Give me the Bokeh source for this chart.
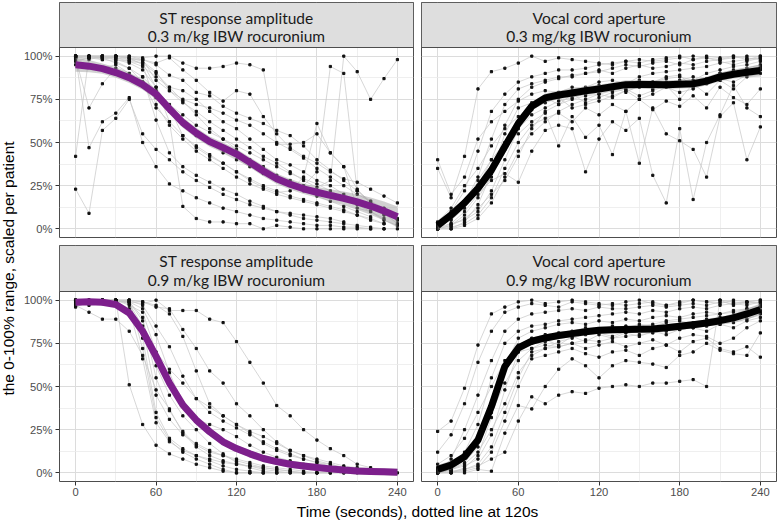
import math
from bokeh.plotting import figure
from bokeh.layouts import row, column
from bokeh.models import Range1d, FixedTicker, Grid, LinearAxis
from bokeh.core.properties import value
from bokeh.embed import file_html
from bokeh.resources import INLINE

# ---------------- data ----------------
times = [0, 10, 20, 30, 40, 50, 60, 70, 80, 90, 100, 110, 120,
         130, 140, 150, 160, 170, 180, 190, 200, 210, 220, 230, 240]

x_ticks = [0, 60, 120, 180, 240]
x_minor = [30, 90, 150, 210]
y_ticks = [0, 25, 50, 75, 100]
y_minor = [12.5, 37.5, 62.5, 87.5]
y_tick_labels = ["0%", "25%", "50%", "75%", "100%"]

N = None
# ST response amplitude, 0.3
st03_patients = [
    [100, 100, 100, 100, 100, 99, 100, 100, 96, 93, 93, 94, 96, 95, 92, 49, 49, 50, 55, 44, 36, 23, 15, 10, 5],
    [99, 100, 100, 99, 98, 98, 95, 89, 86, 79, 77, 71, 67, 64, 61, 57, 54, 48, 40, 34, 28, 22, 16, 12, 6],
    [98, 99, 99, 100, 99, 97, 91, 80, 75, 72, 70, 67, 63, 60, 55, 50, 46, 41, 35, 30, 25, 20, 16, N, N],
    [100, 98, 100, 98, 97, 94, 88, 82, 80, 75, 68, 62, 58, 52, 46, 40, 37, 33, 28, 25, 20, 16, 12, 8, N],
    [97, 99, 98, 97, 93, 88, 80, 72, 66, 60, 56, 52, 48, 44, 40, 36, 32, 29, 26, 22, 18, 14, 10, 6, N],
    [95, 94, 93, 95, 90, 85, 76, 68, 61, 54, 50, 44, 40, 36, 32, 28, 25, 22, 19, 16, 13, 10, 7, N, N],
    [100, 100, 99, 96, 93, 85, 70, 62, 54, 48, 43, 38, 33, 29, 25, 22, 19, 17, 15, 13, 11, 8, 6, 3, N],
    [42, 100, 98, 100, 99, 95, 72, 60, 52, 45, 40, 35, 30, 26, 23, 20, 18, 16, 14, 12, 10, 8, 5, 3, N],
    [23, 9, 57, 64, 75, 55, 46, 40, 33, 28, 24, 20, 17, 14, 12, 10, 9, 8, 7, 6, 4, N, N, N, N],
    [100, 47, 62, 67, 76, 50, 36, 26, 22, 18, 15, 12, 10, 8, 6, 5, 4, 3, 2, 2, 1, 1, 0, N, N],
    [99, 70, 84, 93, 87, 88, 63, 44, 36, 31, 27, 23, 20, 16, 13, 10, 8, 6, 5, 4, 3, 2, 1, 0, N],
    [100, 100, 100, 100, 100, 98, 96, 99, 92, 86, 79, 74, 80, 78, 65, 55, 47, 42, 38, 33, 29, 27, 23, 19, 15],
    [99, 100, 99, 98, 96, 92, 82, 62, 13, 6, 4, 4, 3, 3, 0, 2, 1, 0, 0, 0, 0, 0, 0, 0, 0],
    [100, 100, 100, 99, 97, 96, 82, 70, 54, 47, 42, 38, 33, 28, 24, 21, 22, 30, 61, 44, 36, 12, 10, 5, 2],
    [100, 100, 99, 100, 98, 96, 90, 82, 74, 66, 58, 52, 46, 40, 36, 31, 28, 25, 33, 94, 90, 22, 15, 9, 3],
    [100, 99, 100, 100, 99, 98, 86, 80, 73, 68, 62, 57, 52, 47, 42, 38, 33, 28, 24, 28, 100, 91, 75, 87, 98],
]
st03_smooth = [95, 94.2, 92.8, 90.5, 87.5, 83.5, 78, 69.5, 61.5, 55.5, 50.5, 47, 43.3, 38.5, 33.5,
               29, 25.8, 23.2, 21.2, 19.4, 17.6, 15.6, 13.2, 10.3, 7]
st03_se = [4, 3.5, 3, 3, 3, 3, 3, 3, 3, 3, 3, 3, 3, 3, 3, 3, 3, 3, 3, 3.5, 4, 4.5, 5, 5.5, 6]

# Vocal cord aperture, 0.3
vc03_patients = [
    [0, 10, 22, 45, 68, 78, 85, 88, 90, 92, 92, 93, 95, 96, 97, 98, 97, 98, 99, 100, 99, 98, 99, 100, 100],
    [3, 8, 15, 30, 52, 72, 81, 84, 86, 88, 88, 90, 91, 93, 95, 94, 96, 97, 95, 98, 100, 99, 100, 99, 98],
    [2, 5, 12, 28, 40, 60, 75, 82, 85, 87, 89, 90, 92, 90, 93, 95, 93, 94, 96, 95, 97, 98, 100, 98, 100],
    [35, 18, 42, 81, 91, 93, 96, 100, 97, 99, 98, 97, 96, 95, 97, 96, 98, 99, 100, 98, 99, 97, 95, 97, 99],
    [0, 2, 8, 18, 30, 46, 62, 70, 75, 78, 80, 82, 85, 86, 84, 88, 90, 91, 92, 93, 94, 96, 97, 98, 99],
    [1, 3, 5, 10, 22, 40, 58, 66, 70, 74, 76, 78, 80, 82, 79, 83, 85, 87, 88, 86, 90, 92, 94, 95, 97],
    [40, 20, 30, 52, 62, 68, 74, 78, 80, 79, 82, 81, 83, 80, 84, 86, 85, 88, 89, 82, 85, 90, 92, 93, 95],
    [0, 0, 4, 14, 32, 55, 70, 73, 76, 72, 78, 73, 76, 79, 81, 77, 80, 83, 75, 84, 78, 86, 81, 88, 90],
    [0, 1, 3, 8, 18, 35, 50, 60, 64, 67, 62, 70, 66, 72, 68, 75, 69, 74, 71, 77, 70, 82, 76, 72, 81],
    [2, 6, 15, 25, 40, 50, 55, 62, 67, 48, 65, 53, 60, 43, 68, 38, 70, 55, 51, 46, 30, 65, 73, 40, 59],
    [0, 3, 10, 20, 28, 32, 27, 45, 57, 60, 58, 33, 52, 62, 57, 64, 31, 15, 58, 17, 50, 66, 83, 70, 65],
    [4, 12, 25, 35, 48, 58, 65, 69, 73, 76, 70, 72, 74, 77, 80, 75, 78, 82, 79, 81, 84, 87, 85, 89, 92],
    [0, 0, 2, 6, 15, 30, 45, 55, 62, 68, 72, 75, 78, 80, 82, 84, 83, 85, 86, 88, 87, 90, 91, 92, 94],
    [0, 2, 6, 12, 20, 28, 42, 58, 68, 72, 75, 77, 78, 76, 80, 82, 81, 84, 85, 83, 87, 86, 89, 90, 93],
]
vc03_smooth = [2, 8, 15, 23.4, 34, 47.7, 61, 71, 75.8, 77.5, 78.7, 80, 81, 82.3, 83.5,
               83.6, 83.6, 83.5, 83.7, 84, 85.5, 88, 89.5, 90.7, 91.7]
vc03_se = [3, 2.5, 2.5, 2.5, 2.5, 2.5, 2.5, 2.5, 2.5, 2.5, 2.5, 2.5, 2.5, 2.5, 2.5,
           2.5, 2.5, 2.5, 2.5, 2.5, 2.5, 2.5, 2.5, 3, 3.5]

# ST response amplitude, 0.9
st09_patients = [
    [100, 100, 100, 100, 99, 98, 100, 94, 94, 94, 89, 87, 76, 64, 52, 39, 33, 25, 19, 14, 10, 5, 3, 1, N],
    [100, 99, 100, 100, 100, 99, 96, 95, 83, 72, 59, 52, 40, 33, 25, 18, 13, 10, 7, 5, 3, 2, 1, 0, N],
    [99, 97, 99, 100, 100, 97, 85, 73, 56, 43, 35, 30, 26, 22, 18, 14, 11, 8, 6, 4, 3, 2, 1, N, N],
    [98, 100, 100, 100, 51, 28, 16, 11, 8, 5, 3, 1, 0, 0, 0, 0, N, N, N, N, N, N, N, N, N],
    [97, 93, 89, 89, 82, 68, 48, 37, 23, 15, 10, 7, 5, 4, 3, 2, 1, 0, 0, 0, 0, N, N, N, N],
    [100, 98, 98, 100, 99, 88, 62, 45, 33, 25, 17, 11, 6, 3, 1, 0, 0, 0, 0, 0, N, N, N, N, N],
    [99, 100, 100, 99, 100, 72, 32, 19, 12, 8, 5, 2, 0, 0, 0, N, N, N, N, N, N, N, N, N, N],
    [100, 99, 99, 100, 98, 85, 45, 31, 22, 17, 13, 10, 8, 6, 4, 3, 2, 1, 0, 0, 0, 0, N, N, N],
    [96, 99, 99, 99, 99, 95, 80, 58, 40, 31, 28, 25, 21, 16, 12, 9, 7, 5, 4, 3, 2, 1, 0, N, N],
    [100, 100, 100, 100, 100, 99, 97, 92, 79, 59, 40, 33, 28, 24, 21, 17, 13, 10, 8, 6, 4, 3, 2, 1, 0],
    [99, 98, 100, 100, 99, 90, 55, 36, 24, 16, 12, 10, 7, 5, 3, 2, 1, 0, 0, N, N, N, N, N, N],
    [100, 100, 99, 100, 98, 78, 35, 20, 14, 10, 7, 4, 2, 1, 0, 0, N, N, N, N, N, N, N, N, N],
    [100, 100, 100, 100, 97, 93, 70, 60, 52, 43, 38, 33, 28, 23, 17, 13, 10, 8, 6, 5, 3, 2, 1, 0, N],
    [98, 99, 100, 99, 95, 66, 29, 18, 13, 10, 8, 6, 5, 4, 2, 1, 0, 0, N, N, N, N, N, N, N],
]
st09_smooth = [98.8, 99, 98.8, 97.5, 92.6, 82, 67.4, 52, 39.3, 30.6, 23.8, 18, 14.1, 11, 8.3,
               6.5, 5, 4, 3.1, 2.3, 1.6, 1.1, 0.8, 0.6, 0.4]
st09_se = [2, 1.5, 1.5, 1.5, 2, 2.5, 3, 3, 3, 2.5, 2.5, 2, 2, 2, 2, 2, 2, 2, 2, 2, 2, 2, 2, 2, 2]

# Vocal cord aperture, 0.9
vc09_patients = [
    [24, 30, 49, 74, 92, 96, 99, 100, 98, 99, 100, 99, 98, 97, 99, 100, 98, 97, 99, 100, 99, 98, 100, 99, 100],
    [12, 22, 40, 64, 82, 93, 96, 98, 97, 96, 99, 98, 97, 98, 97, 98, 99, 97, 98, 100, 99, 100, 99, 98, 99],
    [0, 8, 25, 45, 65, 82, 89, 92, 93, 94, 95, 94, 96, 95, 95, 96, 97, 96, 97, 98, 97, 99, 98, 99, 100],
    [2, 5, 12, 28, 55, 75, 82, 85, 86, 88, 89, 90, 91, 92, 93, 92, 94, 93, 95, 96, 95, 97, 98, 97, 99],
    [0, 2, 6, 15, 38, 62, 78, 82, 84, 86, 87, 86, 88, 87, 89, 88, 90, 91, 90, 92, 93, 92, 94, 95, 97],
    [1, 0, 3, 10, 32, 60, 74, 78, 80, 81, 82, 84, 83, 85, 84, 86, 85, 87, 88, 86, 89, 90, 91, 92, 94],
    [0, 2, 4, 8, 22, 48, 70, 75, 77, 74, 79, 76, 80, 78, 81, 79, 82, 80, 83, 84, 82, 86, 84, 88, 90],
    [3, 1, 2, 5, 15, 35, 55, 70, 72, 73, 75, 72, 74, 76, 73, 75, 77, 74, 78, 80, 79, 75, 78, 84, 88],
    [0, 0, 1, 3, 12, 30, 50, 66, 68, 70, 72, 69, 67, 70, 71, 68, 72, 74, 70, 76, 78, 72, 70, 73, 67],
    [0, 1, 0, 2, 1, 23, 39, 37, 50, 60, 66, 62, 55, 62, 65, 64, 63, 61, 68, 70, 75, 71, 69, 68, 81],
    [0, 0, 2, 4, 8, 12, 30, 44, 40, 45, 47, 46, 49, 50, 51, 50, 52, 52, 53, 54, 50, 100, 97, 99, 98],
    [5, 10, 20, 35, 50, 65, 70, 72, 74, 73, 75, 77, 76, 78, 79, 80, 81, 82, 83, 84, 85, 86, 87, 89, 92],
    [0, 2, 5, 12, 25, 40, 58, 68, 72, 76, 78, 80, 81, 79, 82, 83, 84, 85, 86, 87, 88, 89, 90, 91, 93],
    [2, 4, 10, 20, 35, 52, 65, 72, 76, 79, 81, 82, 83, 84, 85, 85, 86, 88, 89, 90, 91, 92, 93, 95, 96],
]
vc09_smooth = [2, 4.5, 9.3, 19, 38.4, 61.6, 72.3, 76.2, 78.1, 79.5, 80.6, 81.7, 82.6, 82.8, 83,
               83.2, 83.3, 84, 84.9, 85.8, 86.8, 88.1, 89.7, 92, 94.6]
vc09_se = [2.5, 2.5, 2.5, 2.5, 3, 3, 2.5, 2, 2, 2, 2, 2, 2, 2, 2, 2, 2, 2, 2, 2, 2, 2, 2.5, 3, 3.5]

strip_titles = [
    ["ST response amplitude", "0.3 m/kg IBW rocuronium"],
    ["Vocal cord aperture", "0.3 mg/kg IBW rocuronium"],
    ["ST response amplitude", "0.9 m/kg IBW rocuronium"],
    ["Vocal cord aperture", "0.9 mg/kg IBW rocuronium"],
]
y_title = "the 0-100% range, scaled per patient"
x_title = "Time (seconds), dotted line at 120s"

# ---------------- style ----------------
PURPLE = "#7d1f8c"
X0, X1 = -12, 252
Y0, Y1 = -5, 105
PANEL_PX = 190
TICK_FONT = "Arial"
STRIP_FONT = "Lato"


def make_panel(titles, patients, smooth, se, color, width, height,
               bl, br, bt, bb, show_x, show_y):
    frame_h = height - bt - bb
    strip_px = frame_h - PANEL_PX
    upp = (Y1 - Y0) / PANEL_PX
    ytop = Y1 + strip_px * upp
    p = figure(width=width, height=height, x_range=Range1d(X0, X1),
               y_range=Range1d(Y0, ytop), output_backend="svg",
               toolbar_location=None, x_axis_location=None, y_axis_location=None,
               min_border_left=bl, min_border_right=br,
               min_border_top=bt, min_border_bottom=bb)
    p.grid.visible = False
    p.background_fill_color = "white"
    p.border_fill_color = "white"
    p.outline_line_color = "#4d4d4d"
    p.outline_line_width = 1

    gx = Grid(dimension=0, ticker=FixedTicker(ticks=x_ticks, minor_ticks=x_minor),
              grid_line_color="#dcdcdc", grid_line_width=1,
              minor_grid_line_color="#ebebeb", minor_grid_line_width=0.8)
    gy = Grid(dimension=1, ticker=FixedTicker(ticks=y_ticks, minor_ticks=y_minor),
              grid_line_color="#dcdcdc", grid_line_width=1,
              minor_grid_line_color="#ebebeb", minor_grid_line_width=0.8)
    p.add_layout(gx)
    p.add_layout(gy)

    xs, ys, px, py = [], [], [], []
    for pat in patients:
        tx = [t for t, v in zip(times, pat) if v is not None]
        vy = [v for v in pat if v is not None]
        xs.append(tx)
        ys.append(vy)
        px.extend(tx)
        py.extend(vy)
    p.multi_line(xs, ys, line_color="#c6c6c6", line_width=0.7)
    p.scatter(px, py, size=2.2, color="#111111", marker="square")

    lo = [m - s for m, s in zip(smooth, se)]
    hi = [m + s for m, s in zip(smooth, se)]
    p.varea(x=times, y1=lo, y2=hi, fill_color="#999999", fill_alpha=0.45)
    p.line(times, smooth, line_color=color, line_width=7, line_join="round")

    # strip
    p.quad(left=X0, right=X1, bottom=Y1, top=ytop, fill_color="#dedede",
           line_color="#4d4d4d", line_width=1)
    l1 = ytop - (strip_px * 0.34) * upp
    l2 = ytop - (strip_px * 0.74) * upp
    p.text(x=[(X0 + X1) / 2] * 2, y=[l1, l2], text=titles,
           text_align="center", text_baseline="middle",
           text_font=value(STRIP_FONT), text_font_size="15.5px", text_color="#1a1a1a")

    if show_x:
        ax = LinearAxis(ticker=FixedTicker(ticks=x_ticks))
        ax.axis_line_color = None
        ax.major_tick_line_color = "#333333"
        ax.major_tick_in = 0
        ax.major_tick_out = 4
        ax.minor_tick_line_color = None
        ax.major_label_standoff = 2
        ax.major_label_text_font = TICK_FONT
        ax.major_label_text_font_size = "11.2px"
        ax.major_label_text_color = "#4d4d4d"
        p.add_layout(ax, "below")
    if show_y:
        ay = LinearAxis(ticker=FixedTicker(ticks=y_ticks))
        ay.major_label_overrides = {t: s for t, s in zip(y_ticks, y_tick_labels)}
        ay.axis_line_color = None
        ay.major_tick_line_color = "#333333"
        ay.major_tick_in = 0
        ay.major_tick_out = 4
        ay.minor_tick_line_color = None
        ay.major_label_standoff = 3
        ay.major_label_text_font = TICK_FONT
        ay.major_label_text_font_size = "11.2px"
        ay.major_label_text_color = "#4d4d4d"
        p.add_layout(ay, "left")
    return p


tl = make_panel(strip_titles[0], st03_patients, st03_smooth, st03_se, PURPLE,
                397, 241, 38, 4, 2, 4, False, True)
tr = make_panel(strip_titles[1], vc03_patients, vc03_smooth, vc03_se, "black",
                361, 241, 4, 2, 2, 4, False, False)
bl = make_panel(strip_titles[2], st09_patients, st09_smooth, st09_se, PURPLE,
                397, 260, 38, 4, 4, 20, True, True)
br = make_panel(strip_titles[3], vc09_patients, vc09_smooth, vc09_se, "black",
                361, 260, 4, 2, 4, 20, True, False)


def blank(width, height):
    f = figure(width=width, height=height, x_range=Range1d(0, width),
               y_range=Range1d(0, height), output_backend="svg",
               toolbar_location=None, x_axis_location=None, y_axis_location=None,
               min_border_left=0, min_border_right=0, min_border_top=0,
               min_border_bottom=0)
    f.grid.visible = False
    f.outline_line_color = None
    f.background_fill_color = "white"
    f.border_fill_color = "white"
    return f


ylab = blank(20, 521)
ylab.text(x=[8], y=[521 - 268], text=[y_title], angle=math.pi / 2,
          text_align="center", text_baseline="middle",
          text_font=value(TICK_FONT), text_font_size="15.5px", text_color="black")

xlab = blank(758, 20)
xlab.text(x=[397], y=[10], text=[x_title], text_align="center", text_baseline="middle",
          text_font=value(TICK_FONT), text_font_size="15.5px", text_color="black")

layout = row(ylab, column(row(tl, tr), row(bl, br), xlab))

open("out.html", "w").write(file_html(layout, INLINE))
